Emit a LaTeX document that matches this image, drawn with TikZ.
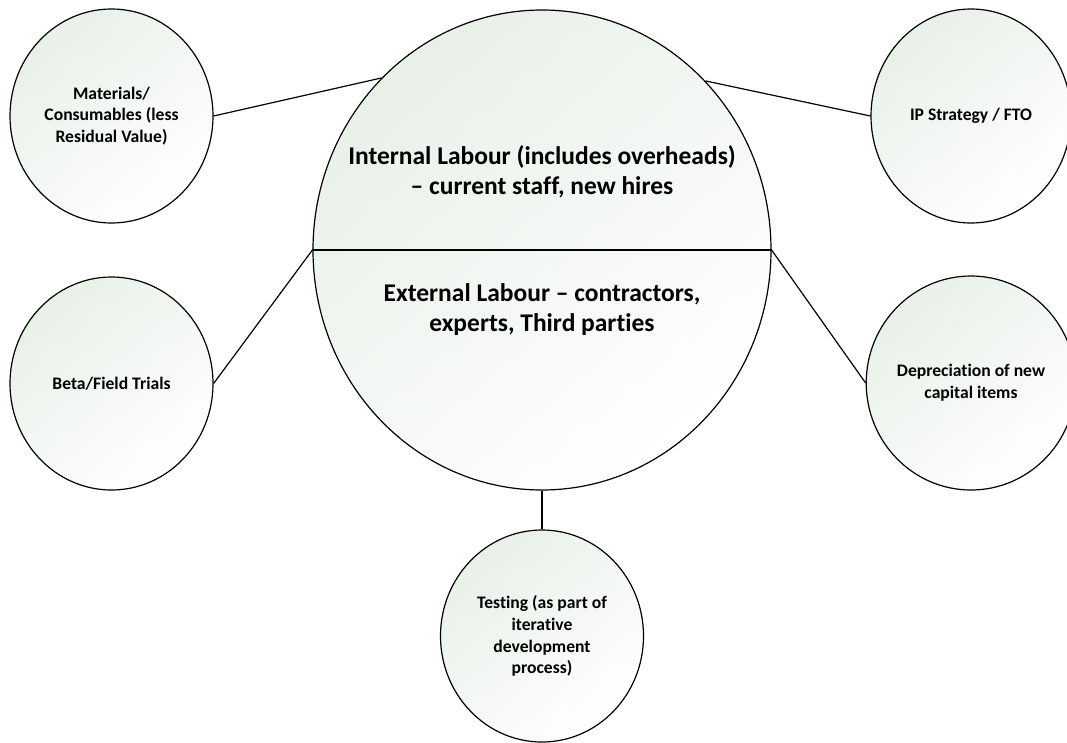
\documentclass[tikz,border=0pt]{standalone}
\usepackage{fontspec}
\setmainfont{Carlito}[Ligatures=NoCommon]
\usetikzlibrary{shapes.geometric}
\definecolor{fillg}{RGB}{232,240,232}
\tikzset{
  bubble/.style={ellipse, draw=black, line width=1.2pt, inner sep=0pt,
    shading=axis, top color=fillg, bottom color=white, shading angle=40,
    align=center, font=\fontsize{17.6}{21.7}\selectfont\bfseries},
  bigtext/.style={align=center, font=\fontsize{25.5}{30}\selectfont\bfseries},
  link/.style={draw=black, line width=1.2pt}
}
\begin{document}
\begin{tikzpicture}[x=1pt,y=-1pt]
\useasboundingbox (0,0) rectangle (1067,742);
% central bubble
\node[bubble, minimum width=458pt, minimum height=480pt] (big) at (542,250) {};
\draw[link] (big.west) -- (big.east);
\node[bigtext] (internal) at (542,172) {Internal Labour (includes overheads)\\– current staff, new hires};
\node[bigtext] (external) at (542,310) {External Labour – contractors,\\experts, Third parties};
% satellites
\node[bubble, minimum width=203pt, minimum height=214pt] (mat) at (111.5,116) {Materials/\\Consumables (less\\Residual Value)};
\node[bubble, minimum width=200pt, minimum height=214pt] (ip) at (971,116) {IP Strategy / FTO};
\node[bubble, minimum width=203pt, minimum height=213pt] (beta) at (111.5,383.5) {Beta/Field Trials};
\node[bubble, minimum width=200pt, minimum height=214pt] (dep) at (971,383) {Depreciation of new\\capital items};
\node[bubble, minimum width=203pt, minimum height=212pt] (test) at (542,636) {Testing (as part of\\iterative\\development\\process)};
% connectors
\draw[link] (mat.east) -- (big.133.4);
\draw[link] (ip.west) -- (big.46.6);
\draw[link] (beta.east) -- (big.west);
\draw[link] (dep.west) -- (big.east);
\draw[link] (test.north) -- (big.south);
\end{tikzpicture}
\end{document}
